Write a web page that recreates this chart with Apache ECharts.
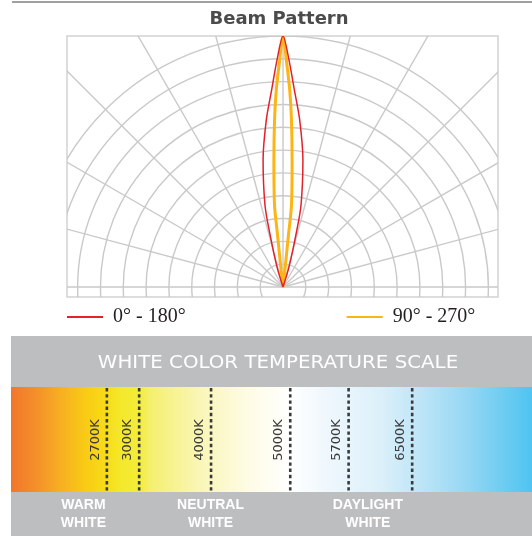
<!DOCTYPE html>
<html>
<head>
<meta charset="utf-8">
<style>
  html, body { margin: 0; padding: 0; background: #fff; }
  #main { width: 532px; height: 536px; }
</style>
<script src="https://cdn.jsdelivr.net/npm/echarts@6.0.0/dist/echarts.min.js"></script>
</head>
<body>
<div id="main"></div>
<script>
// 光束图：强度单位 = 每圈 10
const ringValues = [10, 20, 30, 40, 50, 60, 70, 80, 90, 100, 110]
const spokeAngles = [-90, -75, -60, -45, -30, -15, 0, 15, 30, 45, 60, 75, 90]

const redName = '0° - 180°'
const redAngles = [-18, -16.7, -13.8, -12.4, -8.9, -5.7, -3.3, -1.5, 0, 1.5, 3.3, 5.7, 8.9, 12.4, 13.8, 16.7, 18]
const redValues = [0, 9.2, 24.4, 36.8, 56.4, 73.6, 86.5, 99.6, 110, 99.6, 86.5, 73.6, 56.4, 36.8, 24.4, 9.2, 0]

const orangeName = '90° - 270°'
const orangeAngles = [-6.5, -6.3, -6.0, -5.9, -4.1, -2.9, -1.95, -0.83, 0, 0.83, 1.95, 2.9, 4.1, 5.9, 6.0, 6.3, 6.5]
const orangeValues = [0, 8.8, 23.8, 36.1, 55.8, 73.3, 86.4, 99.6, 110, 99.6, 86.4, 73.3, 55.8, 36.1, 23.8, 8.8, 0]

// 色温刻度（沿色带的位置 %）
const kelvinLabels = ['2700K', '3000K', '4000K', '5000K', '5700K', '6500K']
const kelvinScale = [18.4, 24.6, 38.4, 53.6, 64.8, 77.0]
const zoneLabels = ['WARM\nWHITE', 'NEUTRAL\nWHITE', 'DAYLIGHT\nWHITE']
const zoneScale = [13.9, 38.3, 68.5]

const chart = echarts.init(document.getElementById('main'))
const gridLine = '#c9c9c9'

const option = {
  animation: false,
  backgroundColor: '#fff',
  legend: {
    left: 66,
    top: 307,
    padding: 0,
    itemWidth: 36,
    itemHeight: 14,
    itemGap: 160,
    selectedMode: false,
    itemStyle: { opacity: 0 },
    data: [redName, orangeName],
    textStyle: {
      fontFamily: 'Liberation Serif',
      fontSize: 20,
      color: '#231f20',
      padding: [0, 0, 0, 5]
    }
  },
  grid: [
    { left: 67, top: 36, width: 431, height: 261, show: true, borderColor: '#d2d2d2', borderWidth: 1.5, backgroundColor: 'transparent' },
    { left: 11, top: 387, width: 521, height: 105 }
  ],
  xAxis: [
    { gridIndex: 0, type: 'value', min: -94.67, max: 94.22, show: false },
    { gridIndex: 1, type: 'value', min: 0, max: 100, show: false }
  ],
  yAxis: [
    { gridIndex: 0, type: 'value', min: -4.39, max: 110, show: false },
    { gridIndex: 1, type: 'value', min: 0, max: 1, show: false }
  ],
  polar: {
    center: [283, 287],
    radius: 251
  },
  radiusAxis: {
    min: 0,
    max: 110,
    axisLine: { show: false },
    axisTick: { show: false },
    axisLabel: { show: false },
    splitLine: { show: false }
  },
  angleAxis: {
    type: 'value',
    min: -180,
    max: 180,
    startAngle: 270,
    clockwise: true,
    axisLine: { show: false },
    axisTick: { show: false },
    axisLabel: { show: false },
    splitLine: { show: false }
  },
  graphic: [
    { type: 'line', shape: { x1: 12, y1: 2, x2: 532, y2: 2 }, style: { stroke: '#a0a0a0', lineWidth: 2 } },
    {
      type: 'text', x: 279, y: 19,
      style: { text: 'Beam Pattern', fill: '#4b4b4b', font: 'bold 18px "DejaVu Sans"', textAlign: 'center', textVerticalAlign: 'middle' }
    },
    { type: 'rect', z: -10, shape: { x: 11, y: 336, width: 521, height: 200 }, style: { fill: '#bcbec0' } },
    {
      type: 'text', x: 278, y: 363, z: 10, scaleX: 1.1,
      style: { text: 'WHITE COLOR TEMPERATURE SCALE', fill: '#fff', font: '18px "DejaVu Sans"', textAlign: 'center', textVerticalAlign: 'middle' }
    },
    {
      type: 'rect', z: -5,
      shape: { x: 11, y: 387, width: 521, height: 105 },
      style: {
        fill: new echarts.graphic.LinearGradient(0, 0, 1, 0, [
          { offset: 0, color: '#f2762b' },
          { offset: 0.046, color: '#f48e2a' },
          { offset: 0.094, color: '#f7ae22' },
          { offset: 0.142, color: '#f9cb14' },
          { offset: 0.182, color: '#f7dc18' },
          { offset: 0.21, color: '#f4e82a' },
          { offset: 0.246, color: '#f3ec3a' },
          { offset: 0.267, color: '#f5ef6e' },
          { offset: 0.363, color: '#faf6b8' },
          { offset: 0.459, color: '#fefce6' },
          { offset: 0.536, color: '#ffffff' },
          { offset: 0.612, color: '#eef7fd' },
          { offset: 0.708, color: '#dcf0fa' },
          { offset: 0.785, color: '#bee5f7' },
          { offset: 0.881, color: '#93d6f3' },
          { offset: 1, color: '#4ec4f0' }
        ])
      }
    }
  ],
  series: [
    {
      // 同心圆
      type: 'custom',
      xAxisIndex: 0,
      yAxisIndex: 0,
      clip: true,
      silent: true,
      z: 1,
      data: ringValues.map(v => [v, 0]),
      renderItem (params, api) {
        const c = api.coord([0, 0])
        const r = api.size([api.value(0), 0])[0]
        return {
          type: 'circle',
          shape: { cx: c[0], cy: c[1], r: r },
          style: { fill: 'none', stroke: gridLine, lineWidth: 1.4 }
        }
      }
    },
    {
      // 径向线
      type: 'custom',
      xAxisIndex: 0,
      yAxisIndex: 0,
      clip: true,
      silent: true,
      z: 1,
      data: spokeAngles.map(a => [a, 0]),
      renderItem (params, api) {
        const a = api.value(0) * Math.PI / 180
        const c = api.coord([0, 0])
        const p = api.coord([300 * Math.sin(a), 300 * Math.cos(a)])
        return {
          type: 'line',
          shape: { x1: c[0], y1: c[1], x2: p[0], y2: p[1] },
          style: { stroke: gridLine, lineWidth: 1.4 }
        }
      }
    },
    {
      name: orangeName,
      type: 'line',
      coordinateSystem: 'polar',
      symbol: 'none',
      smooth: 0.3,
      z: 3,
      color: '#fdb515',
      lineStyle: { color: '#fdb515', width: 3 },
      data: orangeValues.map((v, i) => [v, orangeAngles[i]])
    },
    {
      name: redName,
      type: 'line',
      coordinateSystem: 'polar',
      symbol: 'none',
      smooth: 0.3,
      z: 4,
      color: '#e4202a',
      lineStyle: { color: '#e4202a', width: 1.5 },
      data: redValues.map((v, i) => [v, redAngles[i]])
    },
    {
      // 色温虚线 + 标签
      type: 'custom',
      xAxisIndex: 1,
      yAxisIndex: 1,
      silent: true,
      z: 5,
      data: kelvinScale.map((p, i) => [p, i]),
      renderItem (params, api) {
        const top = api.coord([api.value(0), 1])
        const bottom = api.coord([api.value(0), 0])
        return {
          type: 'group',
          children: [
            {
              type: 'line',
              shape: { x1: top[0], y1: top[1] + 1, x2: bottom[0], y2: bottom[1] - 1 },
              style: { stroke: '#3a3a3a', lineWidth: 2.6, lineDash: [3.4, 2.8] }
            },
            {
              type: 'text',
              x: top[0] - 11.5,
              y: 440,
              rotation: Math.PI / 2,
              style: {
                text: kelvinLabels[api.value(1)],
                fill: '#3a3a3a',
                font: '13px "DejaVu Sans"',
                textAlign: 'center',
                textVerticalAlign: 'middle'
              }
            }
          ]
        }
      }
    },
    {
      // 色温分区
      type: 'custom',
      xAxisIndex: 1,
      yAxisIndex: 1,
      silent: true,
      z: 5,
      data: zoneScale.map((p, i) => [p, i]),
      renderItem (params, api) {
        const p = api.coord([api.value(0), 0])
        return {
          type: 'text',
          x: p[0],
          y: p[1] + 22,
          style: {
            text: zoneLabels[api.value(1)],
            fill: '#fff',
            font: 'bold 14px "Liberation Sans"',
            lineHeight: 17.5,
            textAlign: 'center',
            textVerticalAlign: 'middle'
          }
        }
      }
    }
  ]
}

chart.setOption(option)
</script>
</body>
</html>
